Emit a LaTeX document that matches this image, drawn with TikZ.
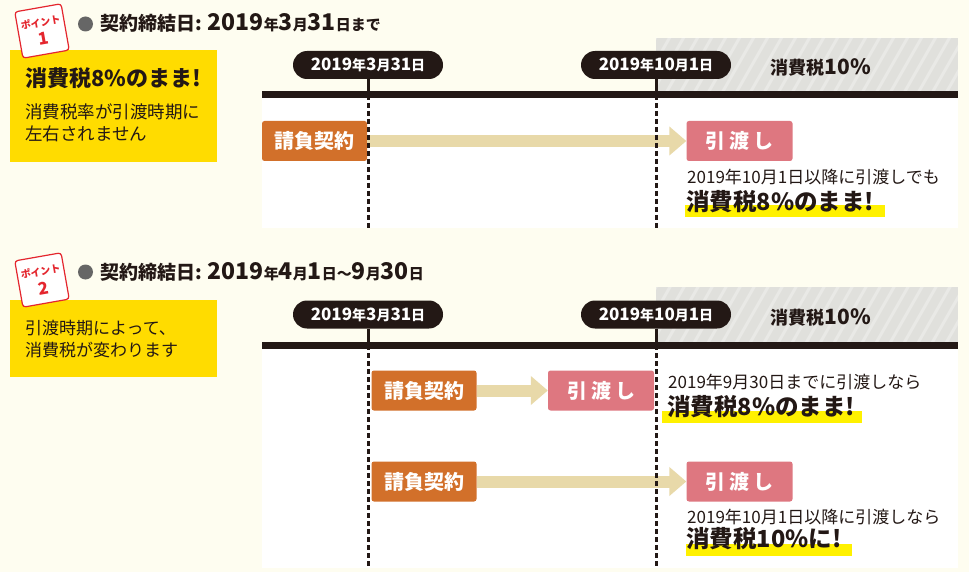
\documentclass[tikz,border=0pt]{standalone}
\usepackage{fontspec}
\setmainfont{Noto Sans CJK JP}
\usetikzlibrary{arrows.meta}
\definecolor{cream}{HTML}{FEFDF0}
\definecolor{ink}{HTML}{231815}
\definecolor{ybg}{HTML}{FFDC00}
\definecolor{hl}{HTML}{FFF100}
\definecolor{orng}{HTML}{D2702A}
\definecolor{pnk}{HTML}{DE7780}
\definecolor{beige}{HTML}{E8D9A9}
\definecolor{hatch}{HTML}{E0E0DC}
\definecolor{bred}{HTML}{E4262E}
\definecolor{dotg}{HTML}{666666}
\newcommand\myfs[1]{\fontsize{#1pt}{#1pt}\selectfont}
\tikzset{
 txt/.style={inner sep=0pt, text=ink, anchor=west},
 pill/.style={fill=ink, text=white, rounded corners=14pt, minimum width=150pt, minimum height=28pt, inner sep=0pt, font=\bfseries},
 obox/.style={fill=orng, text=white, rounded corners=2.5pt, minimum width=105pt, minimum height=40pt, inner sep=0pt, font=\bfseries\myfs{20}},
 pbox/.style={fill=pnk, text=white, rounded corners=2.5pt, minimum width=106pt, minimum height=40pt, inner sep=0pt, font=\bfseries\myfs{20}},
 ybox/.style={fill=ybg, minimum width=207pt, inner sep=0pt, anchor=north west},
 badge/.style={draw=bred, fill=white, line width=1.2pt, rounded corners=3pt, minimum size=47pt, rotate=10, inner sep=0pt},
 btxt/.style={text=bred, font=\bfseries, inner sep=0pt, rotate=10},
 flow/.style={line width=12pt, draw=beige, -{Triangle[length=17pt,width=28pt]}},
 tline/.style={line width=7pt, draw=ink},
 tick/.style={line width=3pt, draw=ink},
 dashv/.style={line width=3pt, draw=ink, dash pattern=on 5pt off 3pt},
 gdot/.style={circle, fill=dotg, minimum size=15pt, inner sep=0pt},
}
\newcommand\pilltext[3]{{\myfs{17}#1}{\myfs{14}年}{\myfs{17}#2}{\myfs{14}月}{\myfs{17}#3}{\myfs{14}日}}
\begin{document}
\begin{tikzpicture}[x=1pt,y=-1pt]
\useasboundingbox (0,0) rectangle (969,572);
\fill[cream] (0,0) rectangle (969,572);

% ---------- panels: white areas and hatched 10% areas
\fill[white] (262,95) rectangle (958,228);
\fill[white] (262,345) rectangle (958,568);
\fill[hatch] (656,38) rectangle (958,95);
\fill[hatch] (656,287) rectangle (958,345);
\begin{scope}
\clip (656,38) rectangle (958,95);
\foreach \i in {0,...,26} \draw[white, opacity=0.3, line width=3pt] (620+\i*14,100) -- ++(40,-70);
\end{scope}
\begin{scope}
\clip (656,287) rectangle (958,345);
\foreach \i in {0,...,26} \draw[white, opacity=0.3, line width=3pt] (620+\i*14,350) -- ++(40,-70);
\end{scope}

% ---------- section 1 left
\node[ybox, minimum height=112pt] (y1) at (10,50) {};
\node[badge] (b1) at (42,31) {};
\node[btxt] (b1t) at (40.5,22.5) {\myfs{10}ポイント};
\node[btxt] (b1n) at (43.5,39) {\myfs{17}1};
\node[gdot] (g1) at (85.5,24) {};
\node[txt] (h1) at (100,23) {\bfseries{\myfs{19}契約締結日:}\hspace{6pt}{\myfs{23}2019}{\myfs{15}年}{\myfs{23}3}{\myfs{15}月}{\myfs{23}31}{\myfs{15}日まで}};
\node[txt] (y1a) at (25,78) {\bfseries\myfs{22}消費税8\%のまま!};
\node[txt] (y1b) at (25,112) {\myfs{17.5}消費税率が引渡時期に};
\node[txt] (y1c) at (25,133.5) {\myfs{17.5}左右されません};

% ---------- section 1 timeline
\node[pill] (p1a) at (368,65) {\pilltext{2019}{3}{31}};
\node[pill] (p1b) at (656,65) {\pilltext{2019}{10}{1}};
\node[txt, anchor=center] (t1) at (821,67) {\bfseries{\myfs{18}消費税}{\myfs{21}10\%}};
\coordinate (L1s) at (262,95);
\coordinate (L1e) at (958,95);
\draw[tline] (L1s) -- (L1e);
\coordinate (a1) at (368,95);
\coordinate (a1e) at (368,228);
\coordinate (c1) at (656,95);
\coordinate (c1e) at (656,228);
\draw[tick] (p1a.south) -- (a1);
\draw[tick] (p1b.south) -- (c1);

\node[obox] (o1) at (314.5,141) {請負契約};
\node[pbox] (k1) at (739.5,141) {引\hspace{4pt}渡\hspace{4pt}し};
\draw[flow] (o1.east) -- (k1.west);
\fill[hl] (685,205) rectangle (885,217);
\node[txt] (r1a) at (687,177) {\myfs{17}2019年10月1日以降に引渡しでも};
\node[txt] (r1b) at (686,202) {\bfseries\myfs{23.5}消費税8\%のまま!};
\draw[dashv] (a1) -- (a1e);
\draw[dashv] (c1) -- (c1e);

% ---------- section 2 left
\node[ybox, minimum height=77pt] (y2) at (10,300) {};
\node[badge] (b2) at (42,280) {};
\node[btxt] (b2t) at (40.5,271.5) {\myfs{10}ポイント};
\node[btxt] (b2n) at (43.5,288) {\myfs{17}2};
\node[gdot] (g2) at (85.5,272) {};
\node[txt] (h2) at (100,272) {\bfseries{\myfs{19}契約締結日:}\hspace{6pt}{\myfs{23}2019}{\myfs{15}年}{\myfs{23}4}{\myfs{15}月}{\myfs{23}1}{\myfs{15}日～}{\myfs{23}9}{\myfs{15}月}{\myfs{23}30}{\myfs{15}日}};
\node[txt] (y2a) at (25,328.5) {\myfs{17}引渡時期によって、};
\node[txt] (y2b) at (25,350.5) {\myfs{17}消費税が変わります};

% ---------- section 2 timeline
\node[pill] (p2a) at (368,314.5) {\pilltext{2019}{3}{31}};
\node[pill] (p2b) at (656,314.5) {\pilltext{2019}{10}{1}};
\node[txt, anchor=center] (t2) at (821,317) {\bfseries{\myfs{18}消費税}{\myfs{21}10\%}};
\coordinate (L2s) at (262,345.5);
\coordinate (L2e) at (958,345.5);
\draw[tline] (L2s) -- (L2e);
\coordinate (a2) at (368,345);
\coordinate (a2e) at (368,568);
\coordinate (c2) at (656,345);
\coordinate (c2e) at (656,568);
\draw[tick] (p2a.south) -- (a2);
\draw[tick] (p2b.south) -- (c2);

\node[obox] (o2) at (424,390.5) {請負契約};
\node[pbox] (k2) at (601,390.5) {引\hspace{4pt}渡\hspace{4pt}し};
\draw[flow] (o2.east) -- (k2.west);
\fill[hl] (662,411) rectangle (862,423);
\node[txt] (r2a) at (668,382) {\myfs{17}2019年9月30日までに引渡しなら};
\node[txt] (r2b) at (667,406.5) {\bfseries\myfs{23.5}消費税8\%のまま!};

\node[obox] (o3) at (424,481.5) {請負契約};
\node[pbox] (k3) at (739.5,481.5) {引\hspace{4pt}渡\hspace{4pt}し};
\draw[flow] (o3.east) -- (k3.west);
\fill[hl] (686,544) rectangle (852,556);
\node[txt] (r3a) at (687,517) {\myfs{17}2019年10月1日以降に引渡しなら};
\node[txt] (r3b) at (686,538.5) {\bfseries\myfs{23.5}消費税10\%に!};
\draw[dashv] (a2) -- (a2e);
\draw[dashv] (c2) -- (c2e);
\end{tikzpicture}
\end{document}
